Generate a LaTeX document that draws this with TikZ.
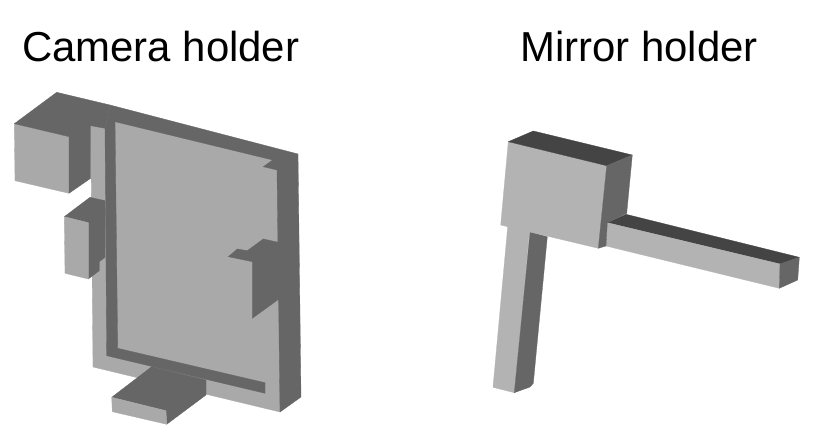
\documentclass[tikz,border=0pt]{standalone}
\usepackage{fontspec}
\setmainfont{Liberation Sans}
\definecolor{camlight}{HTML}{A9A9A9}
\definecolor{camdark}{HTML}{666666}
\definecolor{mirlight}{HTML}{B3B3B3}
\definecolor{mirmid}{HTML}{666666}
\definecolor{mirdark}{HTML}{444444}
\tikzset{
  title/.style={anchor=base west,inner sep=0pt,font=\fontsize{41.9bp}{42bp}\selectfont},
  cl/.style={fill=camlight,draw=camlight,line width=0.3bp,line join=round},
  cd/.style={fill=camdark,draw=camdark,line width=0.3bp,line join=round},
  ml/.style={fill=mirlight,draw=mirlight,line width=0.3bp,line join=round},
  mm/.style={fill=mirmid,draw=mirmid,line width=0.3bp,line join=round},
  md/.style={fill=mirdark,draw=mirdark,line width=0.3bp,line join=round}
}
\begin{document}
\begin{tikzpicture}[x=1bp,y=-1bp]
\useasboundingbox (0,0) rectangle (831,437);
\fill[white] (0,0) rectangle (831,437);
\node[title] (cam) at (22,62) {Camera holder};
\node[title] (mir) at (520,62) {Mirror holder};
% camera holder: plate
\path[cl] (90.7,125) -- (105,128) -- (115,119) -- (275,158) -- (280,170) -- (280,412) -- (93,367) -- cycle;
\path[cd] (110,105) -- (298,154) -- (301,397) -- (280,412) -- (277,170) -- (263.3,166.7) -- (272.7,160) -- (115,121.7) -- (105,128.3) -- cycle;
% groove
\path[cd] (105,128.3) -- (115,121.7) -- (117.7,348.3) -- (265,382.7) -- (265,393.3) -- (106.7,355.7) -- cycle;
% cube
\path[cl] (14.3,123.7) -- (69,136.7) -- (69,193.3) -- (15,180.7) -- cycle;
\path[cd] (14.3,123.7) -- (56.7,92.3) -- (110,105) -- (105,128.3) -- (90.7,125.7) -- (90.7,178.3) -- (69,193.3) -- (69,136.7) -- cycle;
% left block
\path[cd] (64.3,216.7) -- (90,197.3) -- (105,200.7) -- (105,257.3) -- (99.3,261.7) -- (99.3,270.7) -- (88.3,279) -- (88.3,222.7) -- cycle;
\path[cl] (64.3,216.7) -- (88.3,222.7) -- (88.3,279) -- (65,273.3) -- cycle;
% right block
\path[cd] (228.3,256.7) -- (237.3,249) -- (247.3,250.7) -- (263.3,239) -- (278.3,242.3) -- (279,299) -- (252.3,318.3) -- (252.3,261.7) -- cycle;
% foot
\path[cd] (111.7,397.3) -- (151.7,366.7) -- (206,380) -- (206,395) -- (166.7,424.3) -- (166,410.7) -- cycle;
\path[cl] (111.7,397.3) -- (166,410.7) -- (166.7,424.3) -- (112.3,411.7) -- cycle;
% mirror holder: leg
\path[ml] (508.3,220) -- (530,225) -- (514.3,392.7) -- (493,387.3) -- cycle;
\path[mm] (530,232) -- (547.3,236.7) -- (533.3,383.3) -- (530,387) -- (514.3,392.7) -- cycle;
% arm
\path[md] (607.3,222.7) -- (626,214.3) -- (799.3,257.3) -- (780,264) -- cycle;
\path[ml] (607.3,222.7) -- (780,264) -- (779.3,288.3) -- (606,246) -- cycle;
\path[mm] (780,264) -- (799.3,257.3) -- (797.7,280) -- (779.3,288.3) -- cycle;
% head
\path[ml] (508.3,141.7) -- (606.7,165.7) -- (598.3,248.3) -- (500.7,225) -- cycle;
\path[md] (508.3,141.7) -- (533.3,131) -- (632.3,155) -- (606.7,165.7) -- cycle;
\path[mm] (606.7,165.7) -- (632.3,155) -- (626.7,213.3) -- (607.3,222.7) -- (606,246) -- (598.3,248.3) -- cycle;
\end{tikzpicture}
\end{document}
